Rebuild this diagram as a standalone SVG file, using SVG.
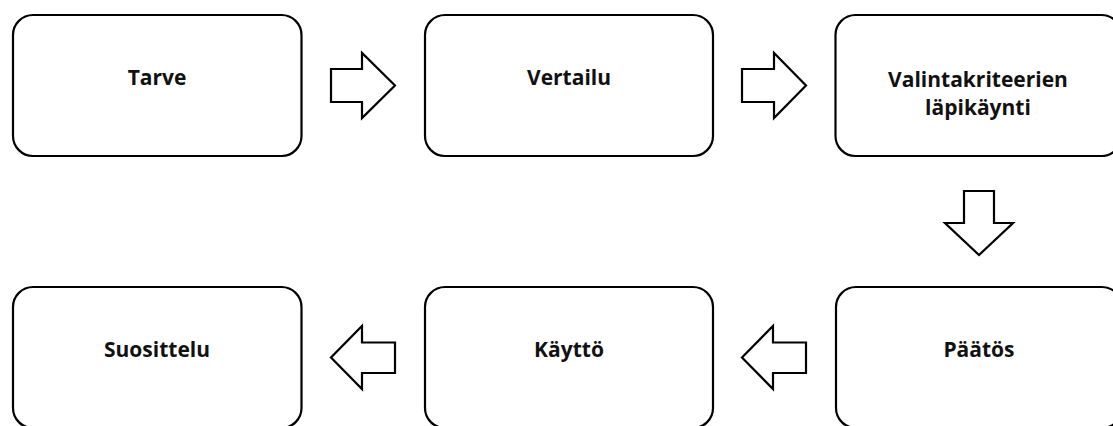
<svg xmlns="http://www.w3.org/2000/svg" width="1113" height="426" viewBox="0 0 1113 426">
<style>
.box{fill:#fff;stroke:#000;stroke-width:2.2}
.arr{fill:#fff;stroke:#000;stroke-width:2.2;stroke-linejoin:miter}
.lbl{font-family:"Open Sans","Liberation Sans",sans-serif;font-weight:bold;font-size:21px;fill:#111;text-anchor:middle}
</style>
<rect width="1113" height="426" fill="#fff"/>
<g id="node-tarve">
<rect class="box" x="13" y="15" width="288.5" height="141" rx="20"/>
<text class="lbl" x="157" y="84.5">Tarve</text>
</g>
<g id="node-vertailu">
<rect class="box" x="425" y="15" width="288" height="141" rx="20"/>
<text class="lbl" x="569" y="84.5">Vertailu</text>
</g>
<g id="node-valintakriteerien">
<rect class="box" x="835.5" y="15" width="286" height="141" rx="20"/>
<text class="lbl" x="978" y="86.5">Valintakriteerien</text>
<text class="lbl" x="978" y="114.5">läpikäynti</text>
</g>
<g id="node-paatos">
<rect class="box" x="836" y="287" width="286" height="141" rx="20"/>
<text class="lbl" x="979" y="357.3">Päätös</text>
</g>
<g id="node-kaytto">
<rect class="box" x="425" y="287" width="288" height="141" rx="20"/>
<text class="lbl" x="569" y="357.3">Käyttö</text>
</g>
<g id="node-suosittelu">
<rect class="box" x="13" y="287" width="288.5" height="141" rx="20"/>
<text class="lbl" x="157" y="357.3">Suosittelu</text>
</g>
<g id="connectors">
<polygon class="arr" points="331,69 362,69 362,53 395,85.5 362,118 362,102 331,102"/>
<polygon class="arr" points="742,69 774,69 774,53 806,85.5 774,118 774,102 742,102"/>
<polygon class="arr" points="964,191 994,191 994,223 1013,223 979,255 945,223 964,223"/>
<polygon class="arr" points="806,342.5 773,342.5 773,326 742,357.5 773,389 773,373 806,373"/>
<polygon class="arr" points="395,342.5 362,342.5 362,326 331,357.5 362,389 362,373 395,373"/>
</g>
</svg>
